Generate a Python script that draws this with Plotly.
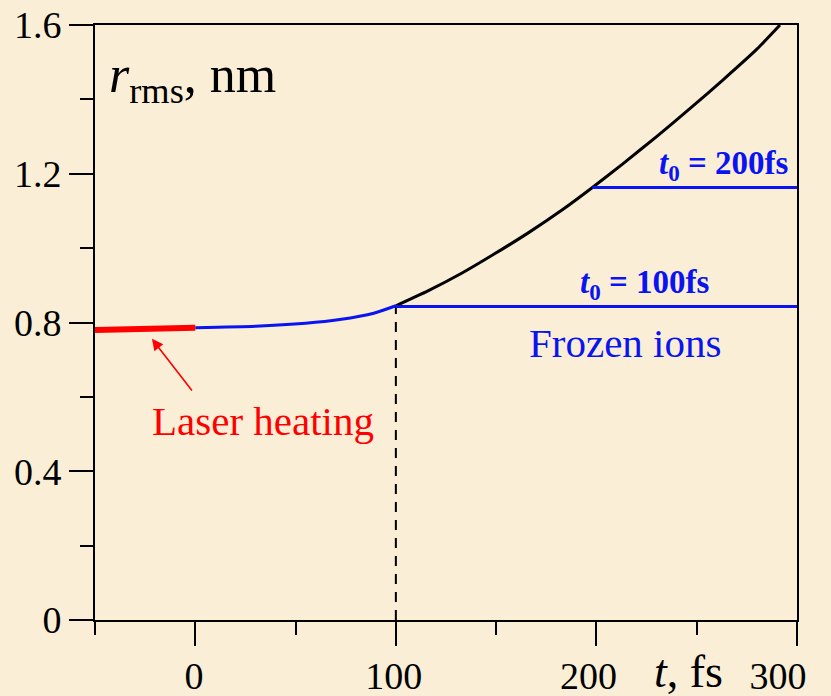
import plotly.graph_objects as go

# r_rms(t) of the cluster, nm; t in fs
laser_t = [-50, 0]
laser_r = [0.780, 0.786]

early_t = [0, 30, 55, 72, 89, 100]
early_r = [0.786, 0.790, 0.798, 0.808, 0.825, 0.845]

expand_t = [100, 116, 133, 149, 166, 183, 198, 213, 230, 247, 263, 280, 291.5]
expand_r = [0.845, 0.885, 0.933, 0.984, 1.041, 1.103, 1.163, 1.226, 1.300, 1.377,
            1.452, 1.535, 1.600]

frozen100_t = [100, 300]
frozen100_r = [0.843, 0.843]
frozen200_t = [198, 300]
frozen200_r = [1.163, 1.163]

x_tick_labels = ["0", "100", "200", "300"]
y_tick_vals = [0, 0.4, 0.8, 1.2, 1.6]
y_tick_text = ["0", "0.4", "0.8", "1.2", "1.6"]

# where the x tick labels sit (shifted left so the axis title fits)
x_label_pos = [-0.6, 99, 196, 290.5]

SERIF = "Liberation Serif"
BG = "#FAEFD6"
BLUE = "#0A14F0"

fig = go.Figure()

# dashed guide at t0 = 100 fs
fig.add_trace(go.Scatter(x=[early_t[-1], early_t[-1]], y=[0, early_r[-1]], mode="lines",
                         line=dict(color="black", width=2, dash="10px,8px"),
                         hoverinfo="skip", showlegend=False))
fig.add_trace(go.Scatter(x=expand_t, y=expand_r, mode="lines",
                         line=dict(color="black", width=3, shape="spline", smoothing=0.6),
                         showlegend=False))
fig.add_trace(go.Scatter(x=frozen100_t, y=frozen100_r, mode="lines",
                         line=dict(color=BLUE, width=3), showlegend=False))
fig.add_trace(go.Scatter(x=frozen200_t, y=frozen200_r, mode="lines",
                         line=dict(color=BLUE, width=3), showlegend=False))
fig.add_trace(go.Scatter(x=early_t, y=early_r, mode="lines",
                         line=dict(color=BLUE, width=3, shape="spline", smoothing=0.6),
                         showlegend=False))
fig.add_trace(go.Scatter(x=laser_t, y=laser_r, mode="lines",
                         line=dict(color="#FF0000", width=6), showlegend=False))
# carrier trace for the label-only axis
fig.add_trace(go.Scatter(x=[None], y=[None], xaxis="x2", showlegend=False,
                         hoverinfo="skip"))

axis_common = dict(showgrid=False, zeroline=False, showline=True, linecolor="black",
                   linewidth=2, mirror=True, ticks="outside", tickcolor="black",
                   tickwidth=2, ticklen=24,
                   tickfont=dict(family=SERIF, size=38, color="black"))

fig.update_layout(
    width=831, height=696,
    margin=dict(l=95, r=34, t=25, b=76, autoexpand=False),
    paper_bgcolor=BG, plot_bgcolor=BG,
    font=dict(family=SERIF, color="black"),
    xaxis=dict(range=[-50, 300], tick0=0, dtick=100, showticklabels=False,
               minor=dict(ticks="outside", dtick=50, ticklen=13, tickwidth=2,
                          tickcolor="black"),
               **axis_common),
    xaxis2=dict(range=[-50, 300], overlaying="x", side="bottom", showline=False,
                showgrid=False, zeroline=False, ticks="", tickvals=x_label_pos,
                ticktext=x_tick_labels, ticklabelstandoff=30,
                tickfont=dict(family=SERIF, size=38, color="black")),
    yaxis=dict(range=[0, 1.6], tickvals=y_tick_vals, ticktext=y_tick_text,
               minor=dict(ticks="outside", tickvals=[0.2, 0.6, 1.0, 1.4], ticklen=13,
                          tickwidth=2, tickcolor="black"),
               **axis_common),
)

# axis titles
fig.add_annotation(text="<i>r</i><sub>rms</sub>, nm", xref="x", yref="y",
                   x=-44, y=1.455, xanchor="left", yanchor="middle", showarrow=False,
                   font=dict(family=SERIF, size=52, color="black"))
fig.add_annotation(text="<i>t</i>, fs", xref="paper", yref="paper",
                   x=0.793, y=-0.086, xanchor="left", yanchor="middle", showarrow=False,
                   font=dict(family=SERIF, size=46, color="black"))

# curve labels
fig.add_annotation(text="<b><i>t</i><sub>0</sub> = 200fs</b>", xref="x", yref="y",
                   x=297, y=1.163, xanchor="right", yanchor="bottom", showarrow=False,
                   font=dict(family=SERIF, size=33, color=BLUE))
fig.add_annotation(text="<b><i>t</i><sub>0</sub> = 100fs</b>", xref="x", yref="y",
                   x=191, y=0.843, xanchor="left", yanchor="bottom", showarrow=False,
                   font=dict(family=SERIF, size=33, color=BLUE))
fig.add_annotation(text="Frozen ions", xref="x", yref="y",
                   x=165.5, y=0.745, xanchor="left", yanchor="middle", showarrow=False,
                   font=dict(family=SERIF, size=41, color=BLUE))
fig.add_annotation(text="Laser heating", xref="x", yref="y",
                   x=-22.5, y=0.535, xanchor="left", yanchor="middle", showarrow=False,
                   font=dict(family=SERIF, size=41, color="#FF0000"))
# arrow pointing at the heated segment
fig.add_annotation(text="", xref="x", yref="y", axref="x", ayref="y",
                   x=-21.6, y=0.756, ax=-1.1, ay=0.613, showarrow=True,
                   arrowhead=2, arrowsize=1.4, arrowwidth=1.6, arrowcolor="#FF0000")

fig.write_html("out.html")
